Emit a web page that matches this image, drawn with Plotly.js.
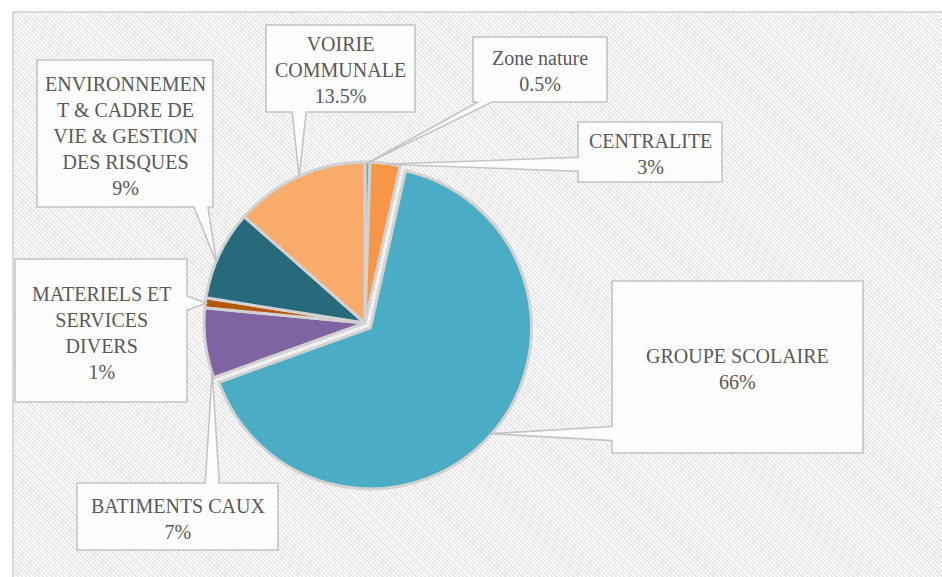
<!DOCTYPE html>
<html><head><meta charset="utf-8">
<script src="https://cdn.plot.ly/plotly-3.0.1.min.js"></script>
<style>
html,body{margin:0;padding:0;background:#fff;}
#wrap{position:relative;width:942px;height:577px;overflow:hidden;}
#bg{position:absolute;left:12px;top:11px;width:940px;height:580px;border-left:2px solid #d9d9d9;border-top:2px solid #d9d9d9;
background:repeating-linear-gradient(45deg,#fcfcfc 0px,#fcfcfc 1.5px,#e6e6e6 1.5px,#e6e6e6 3px);}
#chart{position:absolute;left:0;top:0;width:942px;height:577px;}
</style></head><body>
<div id="wrap"><div id="bg"></div><div id="chart"></div></div>
<script>
// ---- data ----
const categories = ["Zone nature","CENTRALITE","GROUPE SCOLAIRE","BATIMENTS CAUX","MATERIELS ET SERVICES DIVERS","ENVIRONNEMENT & CADRE DE VIE & GESTION DES RISQUES","VOIRIE COMMUNALE"];
const labelLines = [["Zone nature"],["CENTRALITE"],["GROUPE SCOLAIRE"],["BATIMENTS CAUX"],["MATERIELS ET","SERVICES","DIVERS"],["ENVIRONNEMEN","T & CADRE DE","VIE & GESTION","DES RISQUES"],["VOIRIE","COMMUNALE"]];
const values = [0.5, 3, 66, 7, 1, 9, 13.5];
const colors = ["#4BACC6","#F79646","#4BACC6","#8064A2","#B65708","#276A7C","#F9AB6B"];
const pulls = [0, 0, 0.045, 0, 0, 0, 0];

// ---- layout of label callouts (pixels) ----
const W = 942, H = 577;
const CX = 365, CY = 323, R = 161;
const boxes = [[473,37,607,102],[578,122,722,182],[612,281,863,453],[77,483,278,550],[15,259,187,402],[37,60,213,207],[266,25,415,112]];
const sides = ["bottom","left","left","top","right","bottom","bottom"];
const anchorFrac = [0.5,0.5,0.5,0.1,0.5,0.4,0.5];

const maxPull = Math.max(...pulls);
const half = R * (1 + maxPull);
const domain = {x:[(CX-half)/W,(CX+half)/W], y:[1-(CY+half)/H, 1-(CY-half)/H]};

const total = values.reduce((a,b)=>a+b,0);
const px = x => x / W, py = y => 1 - y / H;

const shapes = [], annotations = [];
let cum = 0;
values.forEach((v,i)=>{
  const a0 = cum/total*2*Math.PI, a1 = (cum+v)/total*2*Math.PI;
  cum += v;
  const amid = (a0+a1)/2;
  const cxi = CX + pulls[i]*R*Math.sin(amid), cyi = CY - pulls[i]*R*Math.cos(amid);
  const at = a0 + (a1-a0)*anchorFrac[i];
  const tx = cxi + (R-1)*Math.sin(at), ty = cyi - (R-1)*Math.cos(at);
  const [x0,y0,x1,y1] = boxes[i];
  const h = 7;
  const clamp=(v,lo,hi)=>Math.max(lo,Math.min(hi,v));
  const pts = [[x0,y0]];
  const s = sides[i];
  if (s==="top"){ const b=clamp(tx,x0+12,x1-12); pts.push([b-h,y0],[tx,ty],[b+h,y0]); }
  pts.push([x1,y0]);
  if (s==="right"){ const b=clamp(ty,y0+12,y1-12); pts.push([x1,b-h],[tx,ty],[x1,b+h]); }
  pts.push([x1,y1]);
  if (s==="bottom"){ const b=clamp(tx,x0+12,x1-12); pts.push([b+h,y1],[tx,ty],[b-h,y1]); }
  pts.push([x0,y1]);
  if (s==="left"){ const b=clamp(ty,y0+12,y1-12); pts.push([x0,b+h],[tx,ty],[x0,b-h]); }
  const path = "M " + pts.map(p=>px(p[0]).toFixed(5)+" "+py(p[1]).toFixed(5)).join(" L ") + " Z";
  shapes.push({type:"path", xref:"paper", yref:"paper", path:path, layer:"above",
    fillcolor:"rgba(255,255,255,0.82)", line:{color:"#c4c4c4", width:1.6}});
  annotations.push({xref:"paper", yref:"paper", x:px((x0+x1)/2), y:py((y0+y1)/2+2),
    xanchor:"center", yanchor:"middle", showarrow:false, align:"center",
    text: labelLines[i].join("<br>") + "<br>" + String(values[i]) + "%",
    font:{family:"Liberation Serif, DejaVu Serif, serif", size:20, color:"#595959"}});
});

const trace = {type:"pie", labels:categories, values:values, sort:false, direction:"clockwise",
  rotation:0, pull:pulls, textinfo:"none", hoverinfo:"label+percent",
  marker:{colors:colors, line:{color:"#d2d2d2", width:3}}, domain:domain, automargin:false};

Plotly.newPlot("chart",[trace],{width:W,height:H,margin:{l:0,r:0,t:0,b:0},
  paper_bgcolor:"rgba(0,0,0,0)", plot_bgcolor:"rgba(0,0,0,0)", showlegend:false,
  shapes:shapes, annotations:annotations},{displayModeBar:false,staticPlot:true});
</script></body></html>
